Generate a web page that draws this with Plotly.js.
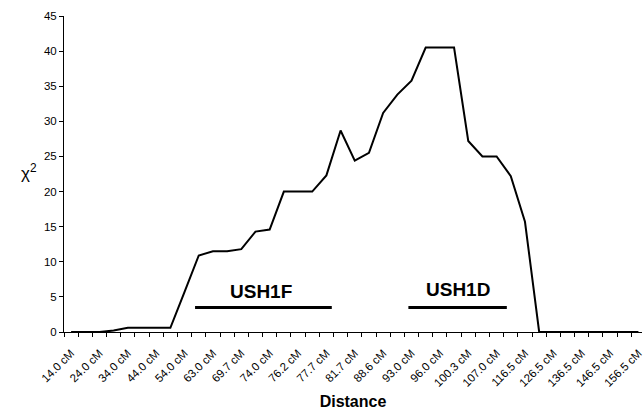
<!DOCTYPE html>
<html>
<head>
<meta charset="utf-8">
<script src="https://cdn.plot.ly/plotly-3.0.1.min.js"></script>
<style>html,body{margin:0;padding:0;background:#fff;}#chart{width:643px;height:411px;}</style>
</head>
<body>
<div id="chart"></div>
<script>
// Labelled distances (every second marker position)
var tickLabels = ["14.0 cM","24.0 cM","34.0 cM","44.0 cM","54.0 cM","63.0 cM","69.7 cM","74.0 cM","76.2 cM","77.7 cM","81.7 cM","88.6 cM","93.0 cM","96.0 cM","100.3 cM","107.0 cM","116.5 cM","126.5 cM","136.5 cM","146.5 cM","156.5 cM"];
// Chi-square value at each of the 41 marker positions
var chiSq = [0,0,0,0.2,0.6,0.6,0.6,0.6,5.7,10.9,11.5,11.5,11.8,14.3,14.6,20.0,20.0,20.0,22.3,28.7,24.4,25.5,31.2,33.8,35.8,40.5,40.5,40.5,27.2,25.0,25.0,22.2,15.7,0,0,0,0,0,0,0,0];
// Candidate intervals (in marker-position units)
var ush1fSpan = [8.74, 18.38];
var ush1dSpan = [23.78, 30.72];
var spanLevel = [3.5, 3.5];

var idx = chiSq.map(function(_, i){ return i; });
var tickIdx = tickLabels.map(function(_, i){ return i * 2; });

var traces = [
  {x: idx, y: chiSq, type: 'scatter', mode: 'lines', line: {color: '#000', width: 2}, hoverinfo: 'skip'},
  {x: ush1fSpan, y: spanLevel, type: 'scatter', mode: 'lines', line: {color: '#000', width: 3}, hoverinfo: 'skip'},
  {x: ush1dSpan, y: spanLevel, type: 'scatter', mode: 'lines', line: {color: '#000', width: 3}, hoverinfo: 'skip'}
];

var layout = {
  width: 643, height: 411,
  margin: {l: 64, r: 1, t: 16, b: 79},
  paper_bgcolor: '#fff', plot_bgcolor: '#fff',
  showlegend: false,
  font: {family: 'Liberation Sans, Arial, sans-serif', color: '#000'},
  xaxis: {
    type: 'linear', range: [-0.5, 40.25],
    tickmode: 'array', tickvals: tickIdx, ticktext: tickLabels,
    tickangle: -45, ticks: '', showgrid: false, zeroline: false,
    ticklabeloverflow: 'allow', ticklabelstandoff: 9,
    showline: true, linecolor: '#000', linewidth: 1,
    tickfont: {size: 11.5, color: '#000'},
    minor: {tickmode: 'linear', tick0: -0.5, dtick: 1, ticks: 'outside', ticklen: 4, tickcolor: '#000', showgrid: false},
    title: {text: '<b>Distance</b>', font: {size: 16, color: '#000'}, standoff: 7}
  },
  yaxis: {
    range: [0, 45], dtick: 5, tick0: 0,
    ticks: 'outside', ticklen: 4, tickcolor: '#000',
    showgrid: false, zeroline: false,
    showline: true, linecolor: '#000', linewidth: 1,
    tickfont: {size: 11.5, color: '#000'}
  },
  annotations: [
    {x: -0.078, y: 0.505, xref: 'paper', yref: 'paper', text: 'χ<sup>2</sup>', showarrow: false, font: {size: 17, color: '#000'}},
    {x: 13.4, y: 5.8, xref: 'x', yref: 'y', text: '<b>USH1F</b>', showarrow: false, font: {size: 19, color: '#000'}},
    {x: 27.3, y: 6.1, xref: 'x', yref: 'y', text: '<b>USH1D</b>', showarrow: false, font: {size: 19, color: '#000'}}
  ]
};

Plotly.newPlot('chart', traces, layout, {displayModeBar: false, staticPlot: true});
</script>
</body>
</html>
